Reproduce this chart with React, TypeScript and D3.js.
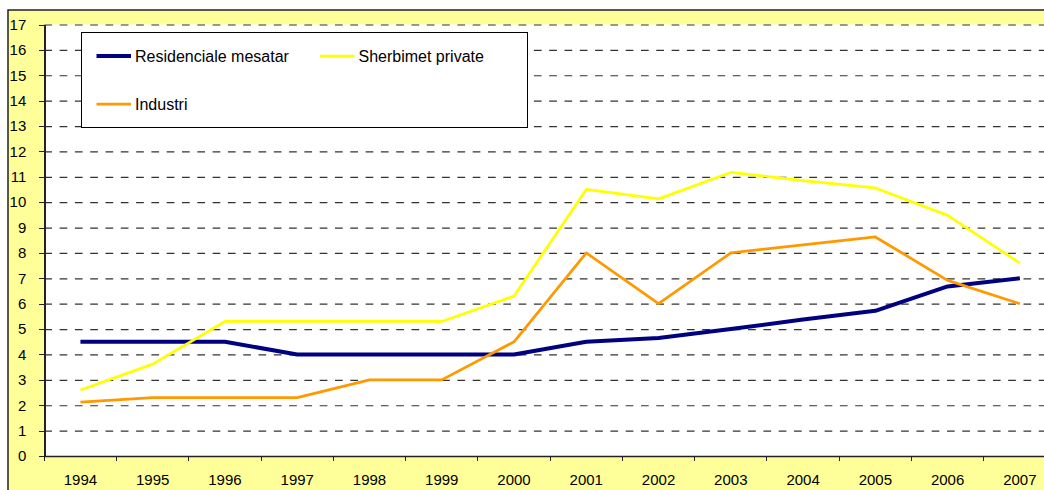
import React, { useEffect, useRef } from 'react';
import * as d3 from 'd3';

// chart data
const years = ['1994', '1995', '1996', '1997', '1998', '1999', '2000', '2001', '2002', '2003', '2004', '2005', '2006', '2007'];
const residenciale = [4.5, 4.5, 4.5, 4.0, 4.0, 4.0, 4.0, 4.5, 4.65, 5.0, 5.38, 5.72, 6.68, 7.0];
const sherbimet = [2.6, 3.62, 5.3, 5.3, 5.3, 5.3, 6.3, 10.5, 10.13, 11.17, 10.85, 10.56, 9.48, 7.6];
const industri = [2.12, 2.3, 2.3, 2.3, 3.0, 3.0, 4.5, 8.0, 6.0, 8.0, 8.32, 8.63, 6.92, 6.0];
const yTicks = d3.range(0, 18);

const series = [
    { name: 'Residenciale mesatar', values: residenciale, color: '#000080', width: 4 },
    { name: 'Sherbimet private', values: sherbimet, color: '#FFFF00', width: 2.75 },
    { name: 'Industri', values: industri, color: '#FF9900', width: 2.75 },
];

const W = 1044, H = 490;
const plot = { left: 44.3, top: 24.5, right: 1056, bottom: 456 };
const font = '"Liberation Sans", Arial, sans-serif';

const x = d3.scaleBand().domain(years).range([plot.left, plot.right]);
const y = d3.scaleLinear().domain([0, 17]).range([plot.bottom, plot.top]);
const cx = (i: number) => (x(years[i]) as number) + x.bandwidth() / 2;

export default function App() {
    const yAxisRef = useRef<SVGGElement>(null);
    const xAxisRef = useRef<SVGGElement>(null);
    const gridRef = useRef<SVGGElement>(null);

    useEffect(() => {
        // dashed horizontal gridlines
        const grid = d3.select(gridRef.current);
        grid.call(d3.axisLeft(y).tickValues(yTicks.slice(1)).tickSize(-(plot.right - plot.left)).tickFormat(() => '') as any);
        grid.select('.domain').remove();
        grid.selectAll('line').attr('stroke', '#333').attr('stroke-width', 1.2).attr('stroke-dasharray', '7.7,7.6');

        // y axis
        const ya = d3.select(yAxisRef.current);
        ya.call(d3.axisLeft(y).tickValues(yTicks).tickSize(5).tickSizeOuter(0).tickPadding(13) as any);
        ya.selectAll('text').attr('font-size', 15).attr('font-family', font).attr('fill', '#000');
        ya.selectAll('line, path').attr('stroke', '#222').attr('shape-rendering', 'crispEdges');
        ya.select('.domain').attr('stroke-width', 1.5);

        // x axis labels (centered in band)
        const xa = d3.select(xAxisRef.current);
        xa.call(d3.axisBottom(x).tickSize(0).tickPadding(18) as any);
        xa.selectAll('text').attr('font-size', 15).attr('font-family', font).attr('fill', '#000');
        xa.select('.domain').attr('stroke', '#222').attr('stroke-width', 1.5);
        // tick marks at the band boundaries
        xa.selectAll('line.boundary').data(years).join('line')
            .attr('class', 'boundary')
            .attr('x1', d => x(d) as number).attr('x2', d => x(d) as number)
            .attr('y1', 0).attr('y2', 5)
            .attr('stroke', '#222').attr('shape-rendering', 'crispEdges');
    }, []);

    const line = (vals: number[]) => d3.line<number>()
        .x((_, i) => cx(i))
        .y(d => y(d))(vals) as string;

    const legend = [
        { s: series[0], lx: 96.5, ly: 56 },
        { s: series[1], lx: 320, ly: 56 },
        { s: series[2], lx: 96.5, ly: 104 },
    ];

    return (
        <svg width={W} height={H} style={{ position: 'fixed', left: 0, top: 0 }}>
            {/* chart area */}
            <rect x={8} y={10} width={W + 20} height={H + 20} fill="#FFFF99" stroke="#222" strokeWidth={1.5} />
            {/* plot area */}
            <rect x={plot.left} y={plot.top} width={plot.right - plot.left} height={plot.bottom - plot.top} fill="#fff" />
            <g ref={gridRef} transform={`translate(${plot.left},0)`} />
            <g ref={yAxisRef} transform={`translate(${plot.left},0)`} />
            <g ref={xAxisRef} transform={`translate(0,${plot.bottom})`} />

            {series.map(s => (
                <path key={s.name} d={line(s.values)} fill="none" stroke={s.color}
                    strokeWidth={s.width} strokeLinejoin="round" />
            ))}

            {/* legend */}
            <rect x={81.7} y={32.3} width={446} height={95} fill="#fff" stroke="#000" strokeWidth={1} shapeRendering="crispEdges" />
            {legend.map(({ s, lx, ly }) => (
                <g key={s.name}>
                    <line x1={lx} x2={lx + 34.5} y1={ly} y2={ly} stroke={s.color} strokeWidth={s.width} />
                    <text x={lx + 38.5} y={ly} dy="0.35em" fontSize={16} fontFamily={font} fill="#000">{s.name}</text>
                </g>
            ))}
        </svg>
    );
}
